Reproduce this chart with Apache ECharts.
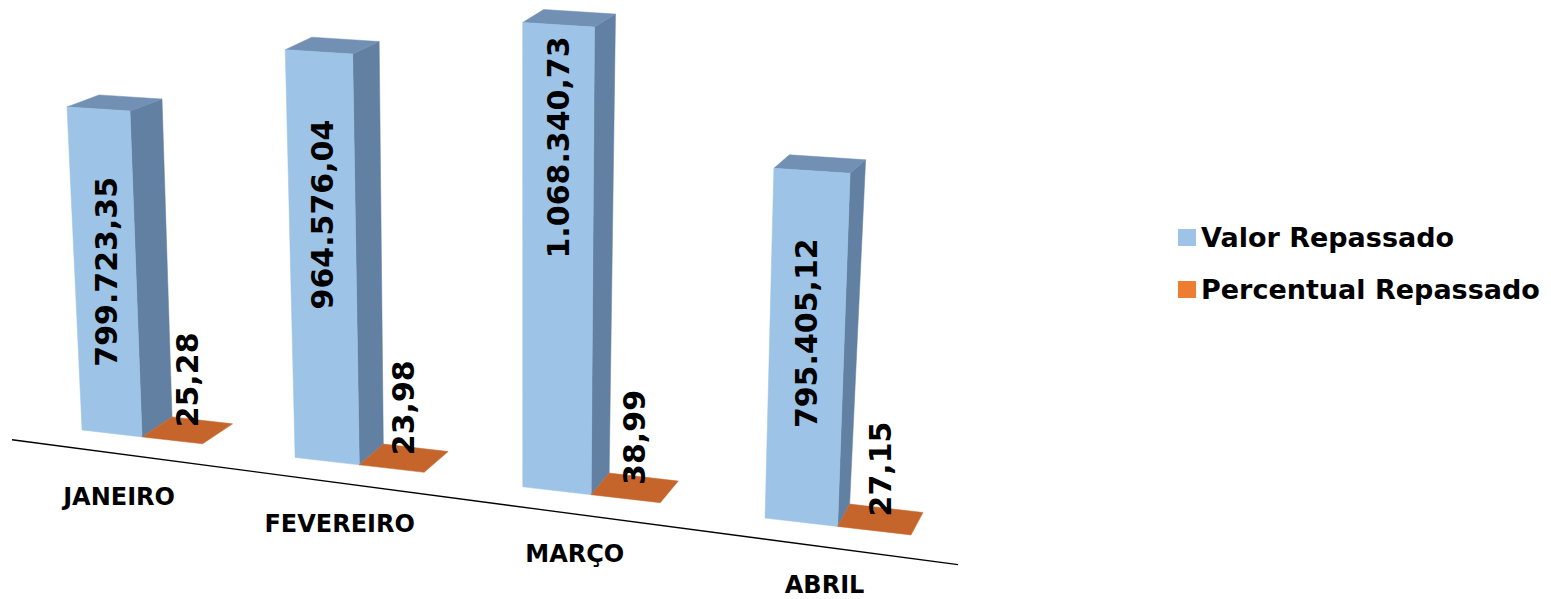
<!DOCTYPE html>
<html><head><meta charset="utf-8">
<script src="https://cdn.jsdelivr.net/npm/echarts@6/dist/echarts.min.js"></script>
<style>html,body{margin:0;padding:0;background:#fff}#chart{width:1551px;height:599px}</style>
</head><body><div id="chart"></div>
<script>
// ---- data ----
const categories = ['JANEIRO', 'FEVEREIRO', 'MARÇO', 'ABRIL'];
const valorRepassado = [799723.35, 964576.04, 1068340.73, 795405.12];
const percentualRepassado = [25.28, 23.98, 38.99, 27.15];
const seriesNames = ['Valor Repassado', 'Percentual Repassado'];

// ---- styling constants (perspective look) ----
const FONT = 'DejaVu Sans';
const ANCHOR = 100;        // category centre -> front-left corner of the blue box
const BOW = 65.7;          // perspective compression of the category spacing
const FLOOR_SLOPE = 0.129; // slope of the floor line
const valorLabelNudge = [0, 0, -56, 0];
const C_FRONT = '#9DC3E6', C_TOP = '#7190B3', C_SIDE = '#6280A1', C_FLOOR = '#C5652C';

function fmt(v) {
  const parts = v.toFixed(2).split('.');
  const int = parts[0].replace(/\B(?=(\d{3})+(?!\d))/g, '.');
  return int + ',' + parts[1];
}
function add(a, b) { return [a[0] + b[0], a[1] + b[1]]; }

function geom(api, idx, value) {
  const n = categories.length;
  const A = api.coord([0, 0])[0], B = api.coord([n - 1, 0])[0];
  const c = api.coord([idx, 0]);
  const t = api.coord([idx, value]);
  const s = (c[0] - A) / (B - A);
  const x0 = c[0] - BOW * s * (1 - s) - ANCHOR;
  const xFirst = A - ANCHOR;
  const y0 = c[1] + FLOOR_SLOPE * (x0 - xFirst);
  const hScale = 1 + 0.165 * s - 0.0765 * s * s;
  const h = (c[1] - t[1]) * hScale;
  const p = 1 + 0.21 * s;
  const wb = 60 * p, wt = wb * 1.05;
  const lean = (x0 - (xFirst + 443)) * 1.05e-4 * h;
  const dT = [32 - 16.5 * s, -12 - 1.5 * s];
  const dB = [30 - 18 * s, -20 - 2.4 * s];
  return { s, x0, y0, h, wb, wt, lean, dT, dB, xFirst, yFirst: c[1] };
}

function poly(points, fill) {
  return { type: 'polygon', shape: { points }, style: { fill, stroke: fill, lineWidth: 0.5 } };
}

function renderValor(params, api) {
  const idx = api.value(0);
  const g = geom(api, idx, api.value(1));
  const BL = [g.x0, g.y0];
  const BR = [g.x0 + g.wb, g.y0 + 0.115 * g.wb];
  const TL = [g.x0 + g.lean, g.y0 - g.h];
  const TR = [g.x0 + g.lean + g.wt, g.y0 - g.h + 0.065 * g.wt];
  const children = [];
  if (params.dataIndex === 0) {
    const lx0 = g.xFirst - 70, lx1 = g.xFirst + 876;
    const ly = (x) => g.yFirst + 19 + 0.132 * (x - g.xFirst);
    children.push({ type: 'line', shape: { x1: lx0, y1: ly(lx0), x2: lx1, y2: ly(lx1) },
      style: { stroke: '#000', lineWidth: 1.3 } });
  }
  children.push(poly([BR, TR, add(TR, g.dT), add(BR, g.dB)], C_SIDE));
  children.push(poly([TL, TR, add(TR, g.dT), add(TL, g.dT)], C_TOP));
  children.push(poly([BL, BR, TR, TL], C_FRONT));
  // value label (rotated, reading bottom to top)
  const anchorY = TL[1] + 70 + valorLabelNudge[idx];
  const midY = anchorY + 110;
  const frac = Math.max(0, Math.min(1, (g.y0 - midY) / g.h));
  const xl = g.x0 + g.lean * frac;
  const w = g.wb + (g.wt - g.wb) * frac;
  children.push({ type: 'text', x: xl + w / 2, y: anchorY, rotation: Math.PI / 2,
    style: { text: fmt(api.value(1)), fontFamily: FONT, fontWeight: 'bold', fontSize: 30,
      fill: '#000', align: 'right', verticalAlign: 'middle' } });
  // category label
  children.push({ type: 'text', x: g.x0 + 37 + 22.5 * g.s, y: g.y0 + 67,
    style: { text: categories[idx], fontFamily: FONT, fontWeight: 'bold', fontSize: 24,
      fill: '#000', align: 'center', verticalAlign: 'middle' } });
  return { type: 'group', children };
}

function renderPercentual(params, api) {
  const idx = api.value(0);
  const g = geom(api, idx, api.value(1));
  const FL = [g.x0 + g.wb, g.y0 + 0.115 * g.wb - g.h];
  const wo = g.wb * 1.01;
  const FR = [FL[0] + wo, FL[1] + 0.115 * wo];
  const children = [poly([FL, FR, add(FR, g.dB), add(FL, g.dB)], C_FLOOR)];
  const cx = FL[0] + wo / 2 + g.dB[0] / 2;
  const cy = FL[1] + 0.115 * wo / 2 + g.dB[1] / 2;
  children.push({ type: 'text', x: cx, y: cy - 3, rotation: Math.PI / 2,
    style: { text: api.value(1).toFixed(2).replace('.', ','), fontFamily: FONT, fontWeight: 'bold',
      fontSize: 30, fill: '#000', align: 'left', verticalAlign: 'middle' } });
  return { type: 'group', children };
}

const chart = echarts.init(document.getElementById('chart'), null, { renderer: 'svg' });
chart.setOption({
  animation: false,
  backgroundColor: '#fff',
  grid: { left: 68.2, right: 572.1, top: 26, bottom: 169 },
  xAxis: { type: 'category', data: categories, show: false },
  yAxis: { type: 'value', min: 0, max: 1000000, show: false },
  legend: {
    data: seriesNames, orient: 'vertical', left: 1173, top: 219,
    itemWidth: 18, itemHeight: 17, itemGap: 25, icon: 'rect', selectedMode: false,
    textStyle: { fontFamily: FONT, fontWeight: 'bold', fontSize: 27, color: '#000' }
  },
  series: [
    { type: 'custom', name: seriesNames[0], coordinateSystem: 'cartesian2d', clip: false,
      itemStyle: { color: C_FRONT }, encode: { x: 0, y: 1 },
      data: valorRepassado.map((v, i) => [i, v]), renderItem: renderValor, z: 2 },
    { type: 'custom', name: seriesNames[1], coordinateSystem: 'cartesian2d', clip: false,
      itemStyle: { color: '#ED7D31' }, encode: { x: 0, y: 1 },
      data: percentualRepassado.map((v, i) => [i, v]), renderItem: renderPercentual, z: 3 }
  ]
});
</script></body></html>
